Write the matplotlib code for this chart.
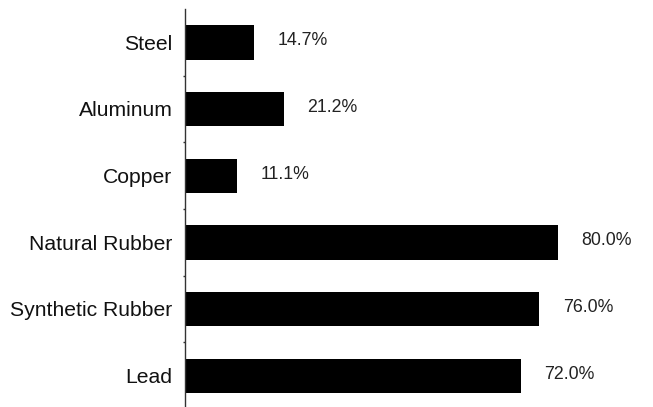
import matplotlib
matplotlib.use("Agg")
import matplotlib.pyplot as plt
import numpy as np

plt.rcParams['font.family'] = ['Liberation Sans', 'DejaVu Sans']

materials = ["Steel", "Aluminum", "Copper", "Natural Rubber", "Synthetic Rubber", "Lead"]
shares = [14.7, 21.2, 11.1, 80.0, 76.0, 72.0]

fig = plt.figure(figsize=(6.53, 4.07), dpi=100)
ax = fig.add_axes([185 / 653, -2 / 407, 468 / 653, 400 / 407])

y = np.arange(len(materials))
ax.barh(y, shares, height=0.515, color="black")

for yi, v in zip(y, shares):
    ax.annotate(f"{v:.1f}%", (v, yi), xytext=(17, 1), textcoords="offset points",
                va="center", ha="left", fontsize=12.8, color="#222222")

ax.set_ylim(len(materials) - 0.5, -0.5)
ax.set_xlim(0, 100.4)
ax.set_yticks(y)
ax.set_yticklabels(materials, fontsize=15.2, color="#111111")
ax.tick_params(axis="y", length=0, pad=9)
ax.set_yticks(np.arange(len(materials) - 1) + 0.5, minor=True)
ax.tick_params(axis="y", which="minor", length=1.5, width=1, color="#333333")
ax.set_xticks([])
for side in ["top", "right", "bottom"]:
    ax.spines[side].set_visible(False)
ax.spines["left"].set_color("#333333")
ax.spines["left"].set_linewidth(1)

fig.savefig("out.png", dpi=100)
